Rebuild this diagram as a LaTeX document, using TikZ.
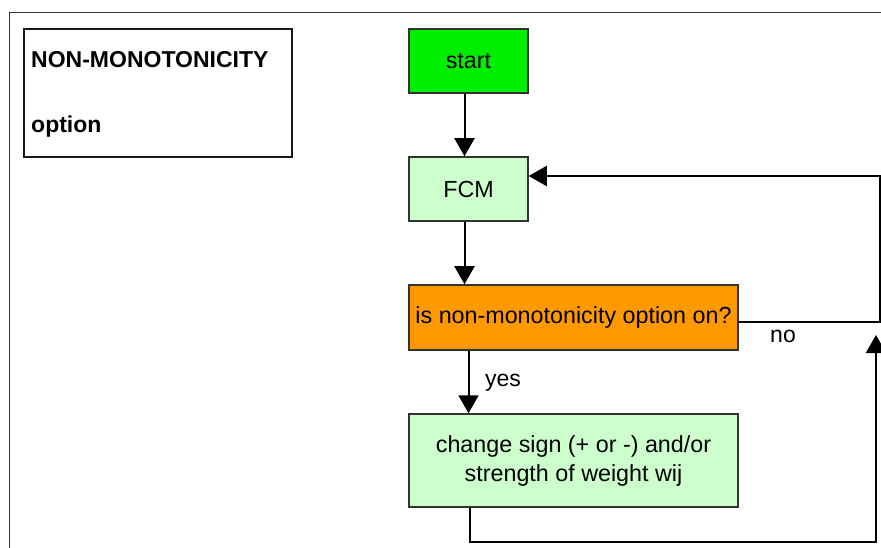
\documentclass[tikz,border=0pt]{standalone}
\usepackage{fontspec}
\setmainfont{Liberation Sans}
\usetikzlibrary{arrows.meta,calc}
\definecolor{startgreen}{RGB}{0,238,0}
\definecolor{lightgreen}{RGB}{204,255,204}
\definecolor{decorange}{RGB}{255,153,0}
\definecolor{boxline}{RGB}{50,50,50}
\tikzset{
  flowbox/.style={draw=boxline, line width=1.5pt, rectangle, inner sep=0pt, align=center,
    font=\fontsize{23.3}{29}\selectfont},
  conn/.style={line width=2pt, -{Triangle[length=18pt,width=20pt]}},
  lbl/.style={font=\fontsize{23}{28}\selectfont, inner sep=0pt},
  titletext/.style={font=\bfseries\fontsize{23}{28}\selectfont, inner sep=0pt, anchor=base west}
}
\begin{document}
\begin{tikzpicture}[x=1pt,y=-1pt]
\useasboundingbox (0,0) rectangle (881,548);
% outer frame
\draw[line width=1pt, black!80] (9,548) -- (9,13) -- (881,13);
% title box
\draw[line width=1.5pt, black!90] (24,29) rectangle (292,157);
\node[titletext] (t1) at (31,68) {NON-MONOTONICITY};
\node[titletext] (t2) at (31,133) {option};
% flow boxes
\node[flowbox, fill=startgreen, minimum width=119pt, minimum height=64pt] (start) at (468.5,61) {start};
\node[flowbox, fill=lightgreen, minimum width=119pt, minimum height=64pt] (fcm) at (468.5,189) {FCM};
\node[flowbox, fill=decorange, minimum width=329pt, minimum height=65pt] (dec) at (573.5,317.5) {is non-monotonicity option on?};
\node[flowbox, fill=lightgreen, minimum width=329pt, minimum height=93pt] (chg) at (573.5,460.5) {change sign (+ or -) and/or\\strength of weight wij};
% connectors
\draw[conn] ([xshift=-4pt]start.south) -- ([xshift=-4pt]fcm.north);
\draw[conn] ([xshift=-4pt]fcm.south) -- ([xshift=-4pt]fcm.south |- dec.north);
\draw[conn] ([xshift=-105pt]dec.south) -- ([xshift=-105pt]chg.north);
\coordinate (r1) at (880,322);
\coordinate (r2) at (880,176);
\draw[conn] ([yshift=-4.5pt]dec.east) -- (r1) -- (r2) -- (r2 -| fcm.east);
\coordinate (b1) at (470,542);
\coordinate (b2) at (876,542);
\coordinate (tip) at (876,335);
\draw[conn] ([xshift=-103.5pt]chg.south) -- (b1) -- (b2) -- (tip);
% labels
\node[lbl] (no) at (783,336) {no};
\node[lbl] (yes) at (503,383) {yes};
\end{tikzpicture}
\end{document}
